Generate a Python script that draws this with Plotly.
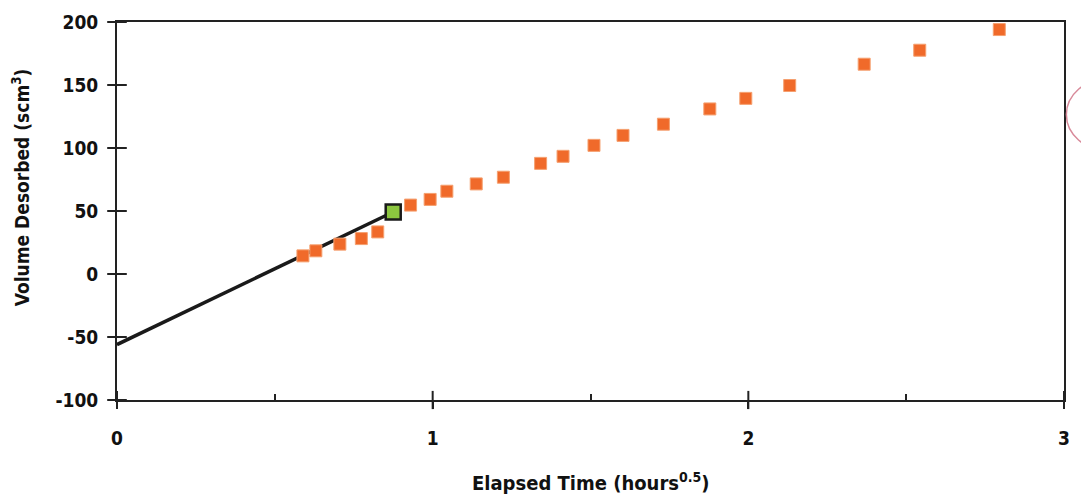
import plotly.graph_objects as go

# Data
time_sqrt = [0.589, 0.630, 0.706, 0.774, 0.826, 0.930, 0.992, 1.045, 1.138, 1.224,
             1.342, 1.413, 1.511, 1.603, 1.731, 1.878, 1.992, 2.131, 2.367, 2.543, 2.795]
volume = [14.4, 18.4, 23.7, 28.1, 33.4, 54.7, 59.2, 65.7, 71.5, 76.8,
          87.8, 93.4, 102.1, 110.0, 118.9, 131.0, 139.4, 149.6, 166.5, 177.6, 194.0]

fit_x = [0.0, 0.875]
fit_y = [-56.0, 49.2]

sel_x = [0.875]
sel_y = [49.2]

x_ticks = [0, 1, 2, 3]
y_ticks = [-100, -50, 0, 50, 100, 150, 200]
x_minor = [0.5, 1.5, 2.5]
x_range = [0, 3]
y_range = [-100, 200]

FONT = "Liberation Sans Narrow, Arial Narrow, DejaVu Sans Condensed, Liberation Sans, Arial"
AX = "#222222"

fig = go.Figure()
# crossing tick marks on the axes (drawn as line markers at the tick values)
fig.add_trace(go.Scatter(x=[x_range[0]] * len(y_ticks), y=y_ticks, mode="markers",
                         marker=dict(symbol="line-ew-open", size=14, color=AX,
                                     line=dict(color=AX, width=2)),
                         cliponaxis=False, showlegend=False, hoverinfo="skip"))
fig.add_trace(go.Scatter(x=x_ticks, y=[y_range[0]] * len(x_ticks), mode="markers",
                         marker=dict(symbol="line-ns-open", size=13, color=AX,
                                     line=dict(color=AX, width=2)),
                         cliponaxis=False, showlegend=False, hoverinfo="skip"))
fig.add_trace(go.Scatter(x=fit_x, y=fit_y, mode="lines",
                         line=dict(color="#1a1a1a", width=3.5), showlegend=False))
fig.add_trace(go.Scatter(x=time_sqrt, y=volume, mode="markers",
                         marker=dict(symbol="square", size=12, color="#F06A2A",
                                     line=dict(color="#F5A070", width=1)),
                         showlegend=False))
fig.add_trace(go.Scatter(x=sel_x, y=sel_y, mode="markers",
                         marker=dict(symbol="square", size=15, color="#8CC63F",
                                     line=dict(color="#1a1a1a", width=2.5)),
                         showlegend=False))

fig.update_layout(
    width=1081, height=502,
    margin=dict(l=117, r=11, t=19, b=102),
    paper_bgcolor="white", plot_bgcolor="white",
    xaxis=dict(range=x_range, tickvals=x_ticks, ticktext=[f"<b>{v}</b>" for v in x_ticks],
               showgrid=False, zeroline=False, showline=True, linecolor=AX,
               linewidth=2, mirror=True, ticks="outside", ticklen=7, tickwidth=2,
               tickcolor=AX, ticklabelstandoff=13,
               tickfont=dict(family=FONT, size=19, color="#111"),
               minor=dict(tickvals=x_minor, ticks="inside", ticklen=6,
                          tickwidth=1.8, tickcolor=AX, showgrid=False)),
    yaxis=dict(range=y_range, tickvals=y_ticks, ticktext=[f"<b>{v}</b>" for v in y_ticks],
               showgrid=False, zeroline=False, showline=True, linecolor=AX,
               linewidth=2, mirror=True, ticks="outside", ticklen=7, tickwidth=2,
               tickcolor=AX, ticklabelstandoff=6,
               tickfont=dict(family=FONT, size=19, color="#111")),
    annotations=[
        dict(text="<b>Elapsed Time (hours<sup>0.5</sup>)</b>", x=0.5, y=-0.218,
             xref="paper", yref="paper", showarrow=False, xanchor="center", yanchor="middle",
             font=dict(family=FONT, size=20, color="#111")),
        dict(text="<b>Volume Desorbed (scm<sup>3</sup>)</b>", x=-0.102, y=0.564,
             xref="paper", yref="paper", showarrow=False, textangle=-90,
             xanchor="center", yanchor="middle",
             font=dict(family=FONT, size=19, color="#111")),
    ],
    shapes=[
        dict(type="circle", xref="paper", yref="paper",
             x0=1.0025, x1=1.09, y0=0.66, y1=0.85,
             line=dict(color="#D88A9A", width=1.5)),
    ],
)

fig.write_html("out.html")
